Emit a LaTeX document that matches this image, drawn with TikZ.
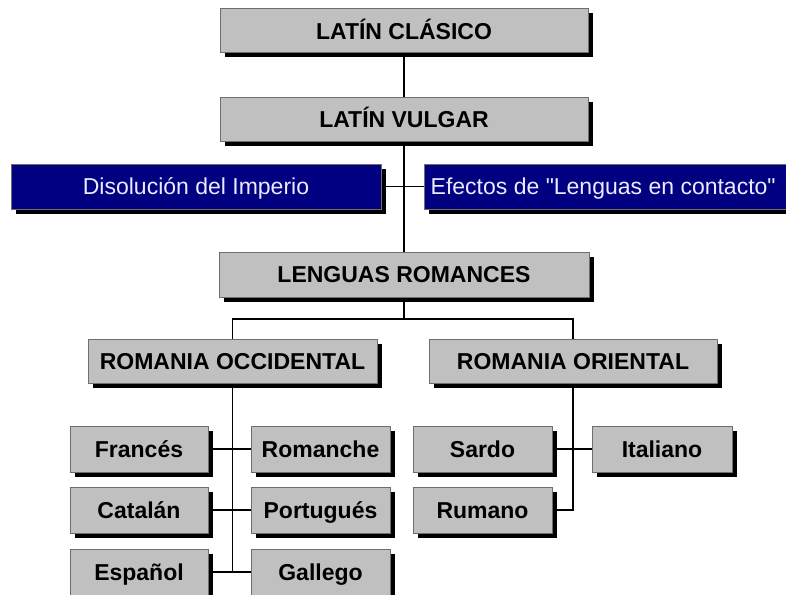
\documentclass[tikz,border=0pt]{standalone}
\usepackage{fontspec}
\setmainfont{Liberation Sans}
\newfontfamily\plainsans{Liberation Sans}
\usetikzlibrary{shadows,backgrounds}
\definecolor{boxgray}{HTML}{C0C0C0}
\definecolor{boxblue}{HTML}{000080}
\definecolor{edgegray}{HTML}{6E6E6E}
\tikzset{
  graybox/.style={draw=edgegray, line width=1pt, fill=boxgray, rectangle,
    inner sep=0pt, text height=18pt, text depth=1.5pt,
    font=\fontsize{23}{26}\selectfont\bfseries,
    general shadow={fill=black, shadow xshift=4.5pt, shadow yshift=-4.5pt}},
  bluebox/.style={draw=edgegray, line width=1pt, fill=boxblue, rectangle,
    inner sep=0pt, text=white!92!blue, text height=18pt, text depth=1.5pt,
    font=\plainsans\fontsize{23}{26}\selectfont,
    general shadow={fill=black, shadow xshift=5pt, shadow yshift=-4.5pt}},
  link/.style={draw=black, line width=1.5pt},
}
\begin{document}
\begin{tikzpicture}[x=1pt,y=-1pt]
\useasboundingbox (0,0) rectangle (786,594);
% top chain
\node[graybox, minimum width=368pt, minimum height=44pt] (lc) at (404,31) {LATÍN CLÁSICO};
\node[graybox, minimum width=368pt, minimum height=44pt] (lv) at (404,119) {LATÍN VULGAR};
\node[bluebox, minimum width=370pt, minimum height=45pt] (dis) at (196,186.5) {Disolución del Imperio};
\node[bluebox, minimum width=370pt, minimum height=45pt] (efe) at (609,186.5) {};
\node[anchor=west, inner sep=0pt, text=white!92!blue, text height=18pt, text depth=1.5pt, font=\plainsans\fontsize{23}{26}\selectfont] (efet) at ([xshift=7pt]efe.west) {Efectos de "Lenguas en contacto"};
\node[graybox, minimum width=370pt, minimum height=45pt] (lr) at (404,274.5) {LENGUAS ROMANCES};
\node[graybox, minimum width=289pt, minimum height=44pt] (ro) at (232.5,361) {ROMANIA OCCIDENTAL};
\node[graybox, minimum width=288pt, minimum height=44pt] (ror) at (573,361) {ROMANIA ORIENTAL};
% western languages
\node[graybox, minimum width=138pt, minimum height=46pt] (fr) at (139,449) {Francés};
\node[graybox, minimum width=139pt, minimum height=46pt] (rom) at (320.5,449) {Romanche};
\node[graybox, minimum width=138pt, minimum height=46pt] (cat) at (139,510) {Catalán};
\node[graybox, minimum width=139pt, minimum height=46pt] (por) at (320.5,510) {Portugués};
\node[graybox, minimum width=138pt, minimum height=46pt] (esp) at (139,572) {Español};
\node[graybox, minimum width=139pt, minimum height=46pt] (gal) at (320.5,572) {Gallego};
% eastern languages
\node[graybox, minimum width=139pt, minimum height=46pt] (sar) at (482.5,449) {Sardo};
\node[graybox, minimum width=140pt, minimum height=46pt] (ita) at (662,449) {Italiano};
\node[graybox, minimum width=139pt, minimum height=46pt] (rum) at (482.5,510) {Rumano};
% connectors
\begin{scope}[on background layer]
\fill[white] (0,0) rectangle (786,594);
\coordinate (split) at (404,319);
\draw[link] (lc.south) -- (lv.north);
\draw[link] (lv.south) -- (lr.north);
\draw[link] (dis.east) -- (efe.west);
\draw[link] (lr.south) -- (split);
\draw[link] (split) -| (ro.north);
\draw[link] (split) -| (ror.north);
\draw[link] (ro.south) -- (ro.south |- esp.east);
\draw[link] (fr.east) -- (rom.west);
\draw[link] (cat.east) -- (por.west);
\draw[link] (esp.east) -- (gal.west);
\draw[link] (ror.south) |- (rum.east);
\draw[link] (sar.east) -- (ita.west);
\end{scope}
\end{tikzpicture}
\end{document}
